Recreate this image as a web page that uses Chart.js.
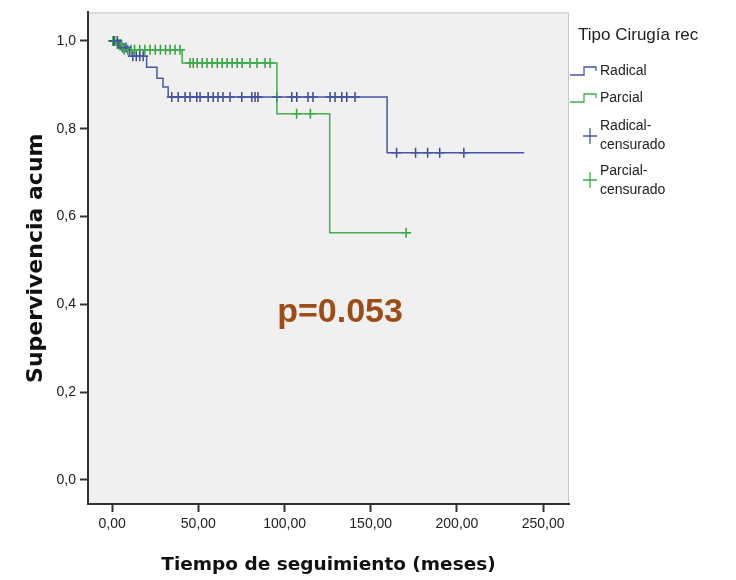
<!DOCTYPE html>
<html>
<head>
<meta charset="utf-8">
<script src="https://cdn.jsdelivr.net/npm/chart.js@4"></script>
<style>
  html, body { margin: 0; padding: 0; background: #fff; }
  #wrap { width: 736px; height: 580px; }
</style>
</head>
<body>
<div id="wrap"><canvas id="kmChart" width="736" height="580"></canvas></div>
<script>
// Kaplan-Meier steps (time in months, cumulative survival)
const radicalTimes = [0, 4, 10, 20, 26, 29.5, 32.5, 159.5, 239];
const radicalSurv  = [1.0, 0.985, 0.965, 0.94, 0.915, 0.895, 0.872, 0.745, 0.745];
const parcialTimes = [0, 2, 6, 40.6, 95.6, 126.2, 170.5];
const parcialSurv  = [1.0, 0.993, 0.98, 0.95, 0.834, 0.563, 0.563];

// censored observations (times)
const radicalCensored = [1, 3, 6, 8, 12, 14, 16, 18, 34.6, 38.3, 42.3, 45.2, 49.1, 51, 55.7, 58.6,
    61.4, 64.3, 68.4, 75.2, 81, 82.9, 84.6, 95.5, 104.2, 107.1, 113.6, 116.5, 126.4, 129.3,
    133.2, 136.1, 140.9, 165, 176, 183, 190, 204];
const parcialCensored = [0.5, 1.5, 3, 4, 5, 7, 9, 11, 13, 16, 19, 22, 25, 28, 31, 33.6, 36.5, 39.4,
    45.2, 47, 49.3, 52.2, 55, 58, 61, 63.8, 66.7, 69.6, 72.5, 75.4, 80, 84, 88.7, 91.6, 107, 115, 170.5];

const xTicks = [0, 50, 100, 150, 200, 250];
const yTicks = [0, 0.2, 0.4, 0.6, 0.8, 1.0];

const BLUE = '#4756a5';
const GREEN = '#3fb04b';

function stepPoints(times, surv) {
    return times.map((t, i) => ({ x: t, y: surv[i] }));
}

// survival value of the curve at time t (for placing censor marks)
function survAt(times, surv, t) {
    let s = surv[0];
    for (let i = 0; i < times.length; i++) {
        if (times[i] <= t) s = surv[i];
    }
    return s;
}

function censorPoints(cens, times, surv) {
    return cens.map(t => ({ x: t, y: survAt(times, surv, t) }));
}

const plotBackground = {
    id: 'plotBackground',
    beforeDraw(chart) {
        const { ctx, chartArea: a } = chart;
        ctx.save();
        ctx.fillStyle = '#f0f0f0';
        ctx.fillRect(a.left, a.top, a.right - a.left, a.bottom - a.top);
        ctx.strokeStyle = '#c4c4c4';
        ctx.lineWidth = 1;
        ctx.beginPath();
        ctx.moveTo(a.left, a.top + 0.5);
        ctx.lineTo(a.right - 0.5, a.top + 0.5);
        ctx.lineTo(a.right - 0.5, a.bottom);
        ctx.stroke();
        ctx.restore();
    }
};

const legendAndNote = {
    id: 'legendAndNote',
    afterDraw(chart) {
        const ctx = chart.ctx;
        ctx.save();
        ctx.fillStyle = '#222';
        ctx.textBaseline = 'middle';
        ctx.textAlign = 'left';
        ctx.font = '17px "Liberation Sans", Arial, sans-serif';
        ctx.fillText('Tipo Cirugía rec', 578, 35);

        ctx.font = '14px "Liberation Sans", Arial, sans-serif';
        const stepIcon = (y, color) => {
            ctx.strokeStyle = color;
            ctx.lineWidth = 1.3;
            ctx.beginPath();
            ctx.moveTo(570, y + 4);
            ctx.lineTo(584, y + 4);
            ctx.lineTo(584, y - 4);
            ctx.lineTo(596, y - 4);
            ctx.lineTo(596, y);
            ctx.stroke();
        };
        const crossIcon = (y, color) => {
            ctx.strokeStyle = color;
            ctx.lineWidth = 1.3;
            ctx.beginPath();
            ctx.moveTo(590, y - 8);
            ctx.lineTo(590, y + 8);
            ctx.moveTo(583, y);
            ctx.lineTo(597, y);
            ctx.stroke();
        };
        stepIcon(71, BLUE);
        ctx.fillText('Radical', 600, 71);
        stepIcon(98, GREEN);
        ctx.fillText('Parcial', 600, 98);
        crossIcon(136, BLUE);
        ctx.fillText('Radical-', 600, 126);
        ctx.fillText('censurado', 600, 145);
        crossIcon(180, GREEN);
        ctx.fillText('Parcial-', 600, 171);
        ctx.fillText('censurado', 600, 190);

        ctx.textAlign = 'center';
        ctx.fillStyle = '#9e4c17';
        ctx.font = 'bold 34px "Liberation Sans", Arial, sans-serif';
        ctx.fillText('p=0.053', 340, 313);
        ctx.restore();
    }
};

const ctx = document.getElementById('kmChart').getContext('2d');
new Chart(ctx, {
    type: 'line',
    data: {
        datasets: [
            {
                label: 'Radical',
                data: stepPoints(radicalTimes, radicalSurv),
                borderColor: BLUE,
                borderWidth: 1.5,
                stepped: 'before',
                pointRadius: 0,
                fill: false
            },
            {
                label: 'Parcial',
                data: stepPoints(parcialTimes, parcialSurv),
                borderColor: GREEN,
                borderWidth: 1.5,
                stepped: 'before',
                pointRadius: 0,
                fill: false
            },
            {
                label: 'Radical-censurado',
                data: censorPoints(radicalCensored, radicalTimes, radicalSurv),
                showLine: false,
                pointStyle: 'cross',
                pointRadius: 5,
                pointBorderWidth: 1.5,
                borderColor: '#3a478f',
                backgroundColor: '#3a478f'
            },
            {
                label: 'Parcial-censurado',
                data: censorPoints(parcialCensored, parcialTimes, parcialSurv),
                showLine: false,
                pointStyle: 'cross',
                pointRadius: 5,
                pointBorderWidth: 1.5,
                borderColor: '#2f9e3c',
                backgroundColor: '#2f9e3c'
            }
        ]
    },
    options: {
        responsive: false,
        animation: false,
        layout: { padding: { top: 10, right: 167, left: 0, bottom: 0 } },
        plugins: {
            legend: { display: false },
            tooltip: { enabled: false }
        },
        scales: {
            x: {
                type: 'linear',
                min: -14,
                max: 265,
                afterFit: s => { s.height = 76; },
                afterBuildTicks: s => { s.ticks = xTicks.map(v => ({ value: v })); },
                border: { display: true, color: '#333', width: 2 },
                grid: { drawOnChartArea: false, drawTicks: true, tickLength: 8, tickColor: '#333', tickWidth: 2 },
                ticks: {
                    color: '#222',
                    padding: 4,
                    maxRotation: 0,
                    font: { family: '"Liberation Sans", Arial, sans-serif', size: 14 },
                    callback: v => v.toFixed(2).replace('.', ',')
                },
                title: {
                    display: true,
                    text: 'Tiempo de seguimiento (meses)',
                    color: '#111',
                    padding: { top: 0, bottom: 4 },
                    font: { family: '"DejaVu Sans", Verdana, sans-serif', size: 18.5, weight: 'bold' }
                }
            },
            y: {
                type: 'linear',
                min: -0.055,
                max: 1.065,
                afterFit: s => { s.width = 88; },
                afterBuildTicks: s => { s.ticks = yTicks.map(v => ({ value: v })); },
                border: { display: true, color: '#333', width: 2 },
                grid: { drawOnChartArea: false, drawTicks: true, tickLength: 8, tickColor: '#333', tickWidth: 2 },
                ticks: {
                    color: '#222',
                    padding: 4,
                    font: { family: '"Liberation Sans", Arial, sans-serif', size: 14 },
                    callback: v => v.toFixed(1).replace('.', ',')
                },
                title: {
                    display: true,
                    text: 'Supervivencia acum',
                    color: '#111',
                    padding: { top: 23, bottom: 0 },
                    font: { family: '"DejaVu Sans", Verdana, sans-serif', size: 22, weight: 'bold' }
                }
            }
        }
    },
    plugins: [plotBackground, legendAndNote]
});
</script>
</body>
</html>
